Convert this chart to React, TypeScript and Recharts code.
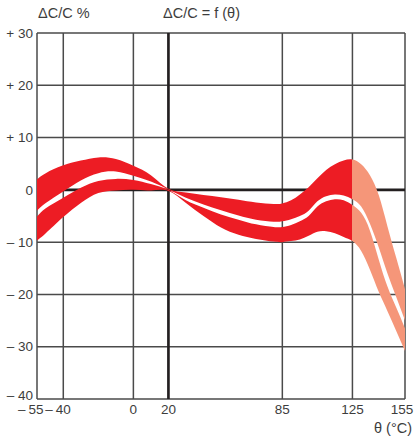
import React from 'react';
import { ComposedChart, Area, XAxis, YAxis, CartesianGrid } from 'recharts';

// temperature (°C) sample points
const temps = [-55, -50, -40, -30, -20, -10, 0, 10, 20, 30, 40, 50, 60, 70, 80, 85, 90, 95, 100, 105, 110, 115, 120, 125, 130, 135, 140, 145, 150, 155];

// upper tolerance band (ΔC/C %)
const upperTop = [2.0, 3.2, 4.7, 5.6, 6.2, 5.9, 4.6, 2.8, 0.2, -0.5, -1.0, -1.4, -1.9, -2.4, -2.7, -2.6, -2.0, -0.9, 0.5, 2.2, 3.8, 4.9, 5.6, 5.8, 4.9, 2.8, -1.0, -7.0, -13.0, -19.0];
const upperBottom = [-4.0, -2.5, -0.3, 1.8, 3.2, 3.5, 2.7, 1.6, 0.05, -1.5, -2.8, -3.9, -4.9, -5.7, -6.1, -6.0, -5.6, -5.0, -4.0, -2.2, -1.2, -0.9, -1.1, -1.8, -3.2, -6.5, -11.0, -16.0, -20.5, -25.0];

// lower tolerance band (ΔC/C %)
const lowerTop = [-5.1, -3.5, -1.5, 0.4, 1.7, 2.1, 1.9, 1.1, -0.05, -2.0, -3.4, -4.7, -5.7, -6.6, -7.1, -7.1, -6.7, -6.0, -5.0, -3.2, -2.2, -1.8, -2.0, -2.9, -4.4, -7.8, -13.3, -18.5, -22.5, -26.5];
const lowerBottom = [-9.7, -8.3, -5.2, -2.5, -0.6, -0.1, 0.0, -0.1, -0.2, -2.5, -5.0, -7.2, -8.6, -9.4, -9.9, -10.0, -9.8, -9.5, -8.8, -8.0, -7.9, -8.3, -9.0, -9.8, -11.7, -15.3, -19.5, -23.2, -27.0, -30.8];

const xTicks = [-55, -40, 0, 20, 85, 125, 155];
const yTicks = [-40, -30, -20, -10, 0, 10, 20, 30];

const data = temps.map((t, i) => ({
  t,
  upper: [upperBottom[i], upperTop[i]],
  lower: [lowerBottom[i], lowerTop[i]],
}));

const font = '"Liberation Sans", Arial, sans-serif';
const textColor = '#3d3d3d';
const red = '#ED1C24';
const salmon = '#F59679';
// colour switches at 125 °C
const split = (125 + 55) / 210;

const XTick = (props: any) => {
  const { x, payload } = props;
  const v = payload.value;
  const digits = String(Math.abs(v));
  const w = digits.length * 7.5;
  const baseline = 414;
  // first label sits a little left of its line, last one is kept inside the frame
  const cx = v === -55 ? x - 1 : v === 155 ? x - 3 : x;
  return (
    <g>
      <text x={cx} y={baseline} textAnchor="middle" fontSize={13.5} fontFamily={font} fill={textColor}>{digits}</text>
      {v < 0 && (
        <text x={cx - w / 2 - 3} y={baseline} textAnchor="end" fontSize={13.5} fontFamily={font} fill={textColor}>–</text>
      )}
    </g>
  );
};

const YTick = (props: any) => {
  const { y, payload } = props;
  const v = payload.value;
  const label = v > 0 ? `+ ${v}` : v < 0 ? `– ${Math.abs(v)}` : '0';
  return (
    <text x={33} y={y} dy={v === -40 ? '0.05em' : '0.35em'} textAnchor="end" fontSize={13.5} fontFamily={font} fill={textColor}>{label}</text>
  );
};

const titleStyle: React.CSSProperties = {
  position: 'absolute',
  fontFamily: font,
  fontSize: 14.5,
  color: textColor,
  lineHeight: 1,
  whiteSpace: 'nowrap',
};

export default function App() {
  return (
    <div style={{ position: 'absolute', left: 0, top: 0, width: 414, height: 441, background: '#fff' }}>
      <ComposedChart width={414} height={441} data={data} margin={{ top: 33, right: 9, left: 0, bottom: 0 }}>
        <defs>
          <linearGradient id="bandFill" x1="0" y1="0" x2="1" y2="0">
            <stop offset={split} stopColor={red} />
            <stop offset={split} stopColor={salmon} />
          </linearGradient>
        </defs>
        <CartesianGrid stroke="#4a4a4a" strokeWidth={1.5} />
        {/* heavy reference lines at 0 % and 20 °C, kept behind the bands */}
        <CartesianGrid stroke="#231f20" strokeWidth={2.6} horizontalValues={[0]} verticalValues={[20]} />
        <XAxis dataKey="t" type="number" domain={[-55, 155]} ticks={xTicks} height={42}
          axisLine={false} tickLine={false} interval={0} tick={<XTick />} />
        <YAxis type="number" domain={[-40, 30]} ticks={yTicks} width={37}
          axisLine={false} tickLine={false} interval={0} tick={<YTick />} />
        <Area dataKey="upper" type="natural" stroke="none" fill="url(#bandFill)" fillOpacity={1} isAnimationActive={false} />
        <Area dataKey="lower" type="natural" stroke="none" fill="url(#bandFill)" fillOpacity={1} isAnimationActive={false} />
      </ComposedChart>
      <span style={{ ...titleStyle, left: 38, top: 6 }}>ΔC/C %</span>
      <span style={{ ...titleStyle, left: 163, top: 6 }}>ΔC/C = f (θ)</span>
      <span style={{ ...titleStyle, right: 2, top: 421 }}>θ (°C)</span>
    </div>
  );
}
